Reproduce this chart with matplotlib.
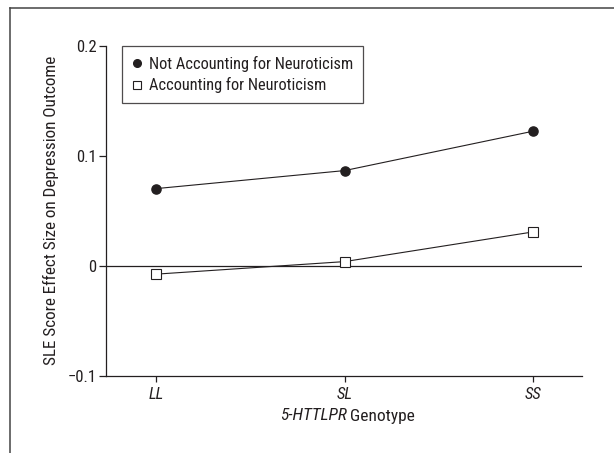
import matplotlib
matplotlib.use("Agg")
import matplotlib.pyplot as plt
from matplotlib.lines import Line2D

genotypes = ["LL", "SL", "SS"]
not_accounting = [0.070, 0.0864, 0.1222]
accounting = [-0.0078, 0.0036, 0.0306]
yticks = [-0.1, 0, 0.1, 0.2]
ytick_labels = ["\u22120.1", "0", "0.1", "0.2"]
series_labels = ["Not Accounting for Neuroticism", "Accounting for Neuroticism"]

plt.rcParams["font.family"] = ["Roboto Condensed", "Archivo Narrow",
                               "Liberation Sans", "DejaVu Sans"]

ink = "#231f20"
W, H = 614, 453
fig = plt.figure(figsize=(W / 100, H / 100), dpi=100)
ax = fig.add_axes([106 / W, 1 - 375.5 / H, (582 - 106) / W, (375.5 - 45.7) / H])

x = list(range(len(genotypes)))
ax.axhline(0, color=ink, lw=0.9, zorder=1)
ax.plot(x, not_accounting, color=ink, lw=0.8, marker="o", ms=6.6,
        mfc=ink, mec=ink, zorder=3)
ax.plot(x, accounting, color=ink, lw=0.8, marker="s", ms=6.6,
        mfc="white", mec=ink, mew=0.8, zorder=3)

ax.set_xlim(-0.266, 2.26)
ax.set_ylim(-0.1, 0.2)
ax.set_xticks(x)
ax.set_xticklabels(genotypes, style="italic", fontsize=12)
ax.set_yticks(yticks)
ax.set_yticklabels(ytick_labels, fontsize=12)
ax.tick_params(axis="y", direction="out", length=5, width=0.9, color=ink, pad=2, labelcolor=ink)
ax.tick_params(axis="x", direction="out", length=4, width=0.9, color=ink, pad=4, labelcolor=ink)
for s in ["top", "right"]:
    ax.spines[s].set_visible(False)
for s in ["left", "bottom"]:
    ax.spines[s].set_color(ink)
    ax.spines[s].set_linewidth(0.9)

ax.set_ylabel("SLE Score Effect Size on Depression Outcome", fontsize=12.3, color=ink)
ax.yaxis.set_label_coords((59 - 106) / 476, 0.5)

# x label: italic gene name + regular word
fig.text(347 / W, 1 - 416 / H, "5-HTTLPR", style="italic", fontsize=12.5,
         ha="right", va="center", color=ink)
fig.text(350 / W, 1 - 416 / H, "Genotype", fontsize=12.5,
         ha="left", va="center", color=ink)

handles = [
    Line2D([], [], ls="none", marker="o", ms=5.5, mfc=ink, mec=ink),
    Line2D([], [], ls="none", marker="s", ms=5.5, mfc="white", mec=ink, mew=0.8),
]
leg = ax.legend(handles, series_labels, loc="upper left",
                bbox_to_anchor=(0.034, 1.0), borderaxespad=0, fontsize=11.8,
                frameon=True, fancybox=False, handlelength=0.6,
                handletextpad=0.45, labelspacing=0.35, borderpad=0.6)
leg.get_frame().set_edgecolor(ink)
leg.get_frame().set_linewidth(0.9)
for t in leg.get_texts():
    t.set_color(ink)

# outer frame (top and left edges visible)
fig.add_artist(Line2D([10 / W, 1], [1 - 8 / H, 1 - 8 / H], transform=fig.transFigure,
                      color="#444444", lw=1.1))
fig.add_artist(Line2D([10 / W, 10 / W], [0, 1 - 8 / H], transform=fig.transFigure,
                      color="#444444", lw=1.1))

fig.savefig("out.png", dpi=100)
